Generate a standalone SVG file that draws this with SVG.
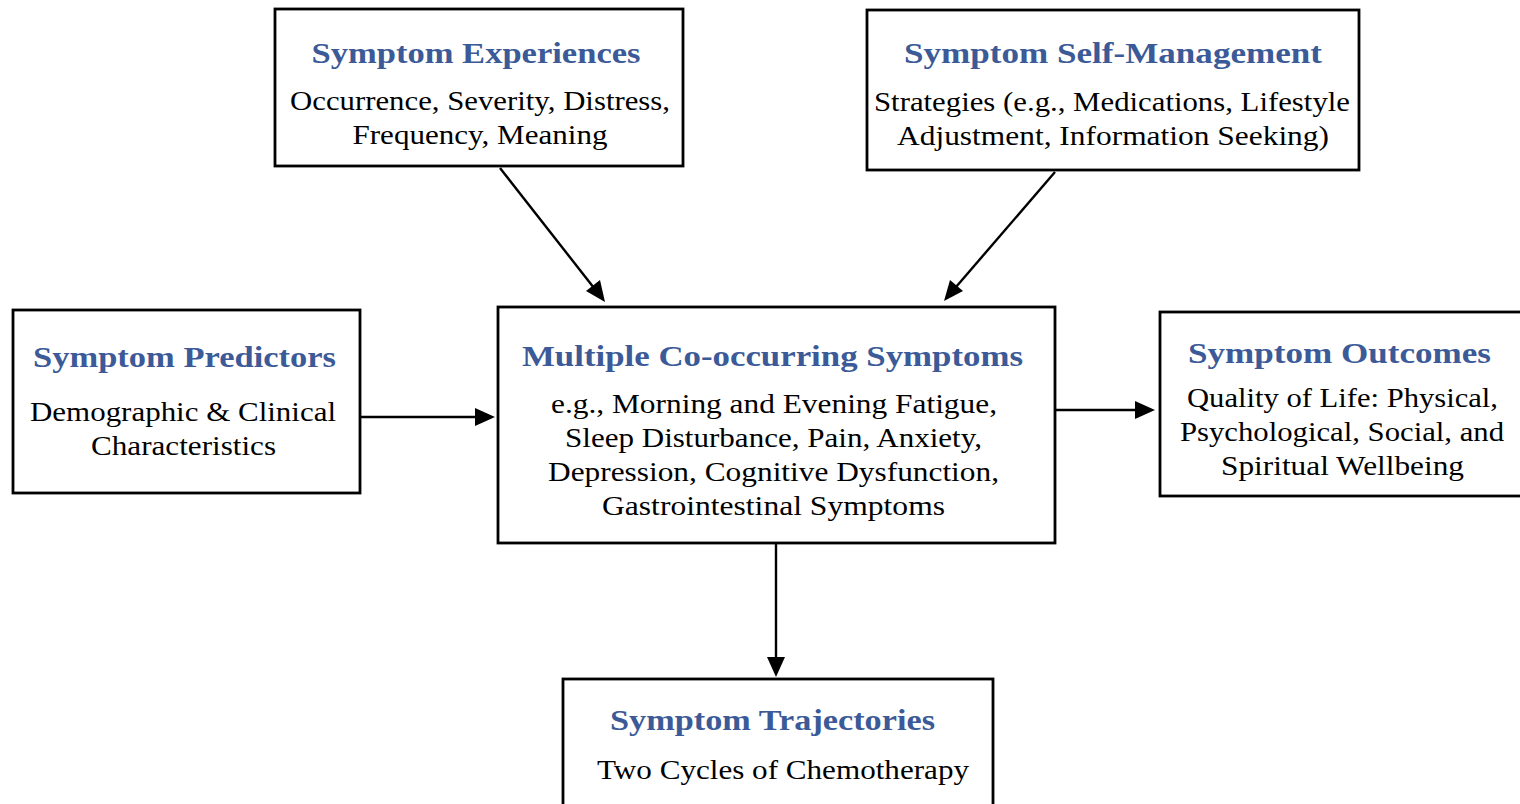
<svg xmlns="http://www.w3.org/2000/svg" width="1520" height="804" viewBox="0 0 1520 804">
<style>
.box{fill:#fff;stroke:#000;stroke-width:2.8}
.t{font-family:"Liberation Serif","DejaVu Serif",serif;font-weight:bold;font-size:30px;fill:#3b5a97;text-anchor:middle}
.b{font-family:"Liberation Serif","DejaVu Serif",serif;font-size:28px;fill:#000;text-anchor:middle}
.c{stroke:#000;stroke-width:2.4;fill:none}
.h{fill:#000}
</style>
<rect width="1520" height="804" fill="#fff"/>
<g id="connectors">
<line class="c" x1="500" y1="168" x2="594" y2="288"/>
<path class="h" d="M605,302 L586,291 L600,280 z"/>
<line class="c" x1="1055" y1="172" x2="956" y2="287"/>
<path class="h" d="M944,301 L950,280 L963,291 z"/>
<line class="c" x1="360" y1="417" x2="478" y2="417"/>
<path class="h" d="M495,417 L475,408 L475,426 z"/>
<line class="c" x1="1055" y1="410" x2="1136" y2="410"/>
<path class="h" d="M1155,410 L1135,401 L1135,419 z"/>
<line class="c" x1="776" y1="543" x2="776" y2="659"/>
<path class="h" d="M776,677 L767,657 L785,657 z"/>
</g>
<g id="experiences">
<rect class="box" x="275" y="9" width="408" height="157"/>
<text class="t" x="476" y="63" textLength="329" lengthAdjust="spacingAndGlyphs">Symptom Experiences</text>
<text class="b" x="480" y="110" textLength="380" lengthAdjust="spacingAndGlyphs">Occurrence, Severity, Distress,</text>
<text class="b" x="480" y="144" textLength="255" lengthAdjust="spacingAndGlyphs">Frequency, Meaning</text>
</g>
<g id="selfmanagement">
<rect class="box" x="867" y="10" width="492" height="160"/>
<text class="t" x="1113" y="63" textLength="418" lengthAdjust="spacingAndGlyphs">Symptom Self-Management</text>
<text class="b" x="1112" y="111" textLength="476" lengthAdjust="spacingAndGlyphs">Strategies (e.g., Medications, Lifestyle</text>
<text class="b" x="1113" y="145" textLength="432" lengthAdjust="spacingAndGlyphs">Adjustment, Information Seeking)</text>
</g>
<g id="predictors">
<rect class="box" x="13" y="310" width="347" height="183"/>
<text class="t" x="184.5" y="367" textLength="303" lengthAdjust="spacingAndGlyphs">Symptom Predictors</text>
<text class="b" x="183" y="421" textLength="306" lengthAdjust="spacingAndGlyphs">Demographic &amp; Clinical</text>
<text class="b" x="183.5" y="455" textLength="185" lengthAdjust="spacingAndGlyphs">Characteristics</text>
</g>
<g id="multiple">
<rect class="box" x="498" y="307" width="557" height="236"/>
<text class="t" x="772.5" y="366" textLength="501" lengthAdjust="spacingAndGlyphs">Multiple Co-occurring Symptoms</text>
<text class="b" x="774" y="413" textLength="446" lengthAdjust="spacingAndGlyphs">e.g., Morning and Evening Fatigue,</text>
<text class="b" x="773.5" y="447" textLength="417" lengthAdjust="spacingAndGlyphs">Sleep Disturbance, Pain, Anxiety,</text>
<text class="b" x="773.5" y="481" textLength="451" lengthAdjust="spacingAndGlyphs">Depression, Cognitive Dysfunction,</text>
<text class="b" x="773.5" y="515" textLength="343" lengthAdjust="spacingAndGlyphs">Gastrointestinal Symptoms</text>
</g>
<g id="outcomes">
<rect class="box" x="1160" y="312" width="362" height="184"/>
<text class="t" x="1339.5" y="363" textLength="303" lengthAdjust="spacingAndGlyphs">Symptom Outcomes</text>
<text class="b" x="1342.5" y="407" textLength="311" lengthAdjust="spacingAndGlyphs">Quality of Life: Physical,</text>
<text class="b" x="1342" y="441" textLength="324" lengthAdjust="spacingAndGlyphs">Psychological, Social, and</text>
<text class="b" x="1342.5" y="475" textLength="243" lengthAdjust="spacingAndGlyphs">Spiritual Wellbeing</text>
</g>
<g id="trajectories">
<rect class="box" x="563" y="679" width="430" height="140"/>
<text class="t" x="772.5" y="730" textLength="325" lengthAdjust="spacingAndGlyphs">Symptom Trajectories</text>
<text class="b" x="783" y="779" textLength="372" lengthAdjust="spacingAndGlyphs">Two Cycles of Chemotherapy</text>
</g>
</svg>
